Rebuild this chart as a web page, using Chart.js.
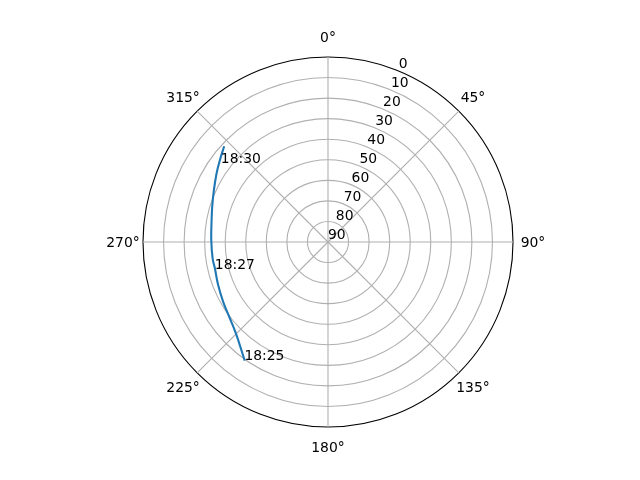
<!DOCTYPE html>
<html>
<head>
<meta charset="utf-8">
<script src="https://cdn.jsdelivr.net/npm/chart.js@4/dist/chart.umd.min.js"></script>
<style>
  html, body { margin: 0; padding: 0; background: #ffffff; }
  #wrap { width: 640px; height: 480px; }
</style>
</head>
<body>
<div id="wrap"><canvas id="c" width="640" height="480"></canvas></div>
<script>
// Azimuth tick labels (compass, clockwise from north)
const thetaLabels = ['0°', '45°', '90°', '135°', '180°', '225°', '270°', '315°'];
// Elevation tick values (0 at horizon/outer edge, 90 at zenith/center)
const elevationTicks = [0, 10, 20, 30, 40, 50, 60, 70, 80, 90];
// Satellite track: azimuth (deg) and elevation (deg)
const trackAz = [215.4, 224.5, 232.1, 240.3, 248.6, 256.9, 262.0, 271.0, 279.1, 287.0, 294.5, 301.7, 307.2, 312.3];
const trackEl = [19.8, 26.5, 29.5, 31.3, 32.6, 33.5, 33.3, 33.2, 32.6, 31.1, 29.0, 26.3, 24.0, 21.5];
// Time annotations along the track
const timeLabels = ['18:25', '18:27', '18:30'];
const timeAz = [215.4, 256.5, 306.4];
const timeEl = [19.8, 33.4, 25.2];

const FONT = '13.9px "DejaVu Sans", "Liberation Sans", sans-serif';
const STEP = 360 / thetaLabels.length;

function posFor(scale, az, el) {
  // radial value = zenith angle (90 - elevation) so the horizon is the outer ring
  return scale.getPointPositionForValue(az / STEP, 90 - el);
}

const polarPlugin = {
  id: 'polarSky',
  afterDatasetsDraw(chart) {
    const scale = chart.scales.r;
    const ctx = chart.ctx;
    ctx.save();
    ctx.font = FONT;
    ctx.fillStyle = '#000000';

    // angle labels
    ctx.textAlign = 'center';
    ctx.textBaseline = 'alphabetic';
    thetaLabels.forEach((lab, i) => {
      const p = scale.getPointPosition(i, scale.drawingArea + 20);
      ctx.fillText(lab, p.x, p.y + 5);
    });

    // elevation tick labels along 22.5°
    ctx.textAlign = 'left';
    elevationTicks.forEach((v) => {
      const p = posFor(scale, 22.5, v);
      ctx.fillText(String(v), p.x, p.y - 3);
    });

    // track (smoothed Catmull-Rom through the read points)
    const pts = trackAz.map((az, i) => posFor(scale, az, trackEl[i]));
    ctx.beginPath();
    ctx.moveTo(pts[0].x, pts[0].y);
    for (let i = 0; i < pts.length - 1; i++) {
      const p0 = pts[Math.max(0, i - 1)];
      const p1 = pts[i];
      const p2 = pts[i + 1];
      const p3 = pts[Math.min(pts.length - 1, i + 2)];
      const c1x = p1.x + (p2.x - p0.x) / 6, c1y = p1.y + (p2.y - p0.y) / 6;
      const c2x = p2.x - (p3.x - p1.x) / 6, c2y = p2.y - (p3.y - p1.y) / 6;
      ctx.bezierCurveTo(c1x, c1y, c2x, c2y, p2.x, p2.y);
    }
    ctx.strokeStyle = '#1f77b4';
    ctx.lineWidth = 2.08;
    ctx.lineJoin = 'round';
    ctx.lineCap = 'square';
    ctx.stroke();

    // time annotations
    ctx.fillStyle = '#000000';
    ctx.textAlign = 'left';
    ctx.textBaseline = 'alphabetic';
    timeLabels.forEach((t, i) => {
      const p = posFor(scale, timeAz[i], timeEl[i]);
      ctx.fillText(t, p.x, p.y);
    });
    ctx.restore();
  }
};

new Chart(document.getElementById('c'), {
  type: 'radar',
  data: {
    labels: thetaLabels,
    datasets: []
  },
  options: {
    responsive: false,
    animation: false,
    devicePixelRatio: 1,
    layout: { padding: { top: 57, bottom: 53, left: 143, right: 127 } },
    plugins: { legend: { display: false }, tooltip: { enabled: false } },
    scales: {
      r: {
        min: 0,
        max: 90,
        startAngle: 0,
        ticks: { display: false, stepSize: 10 },
        pointLabels: { display: false },
        grid: {
          circular: true,
          color: (c) => (c.tick && c.tick.value === 90 ? '#000000' : '#b0b0b0'),
          lineWidth: 1.1
        },
        angleLines: { display: true, color: '#b0b0b0', lineWidth: 1.1 }
      }
    }
  },
  plugins: [polarPlugin]
});
</script>
</body>
</html>
